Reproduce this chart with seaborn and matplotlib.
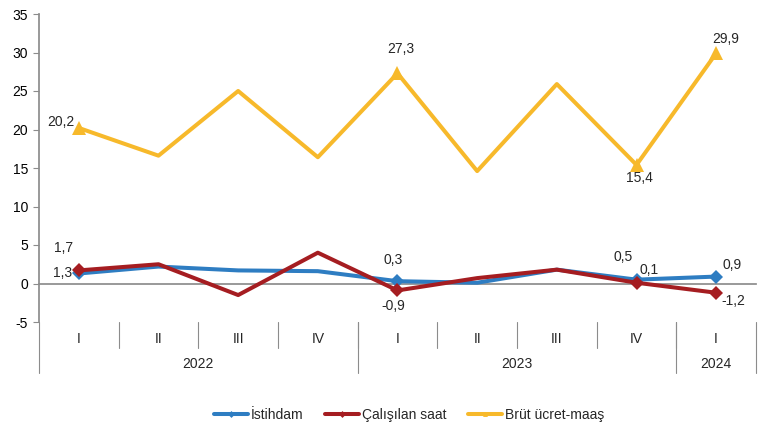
import numpy as np
import pandas as pd
import matplotlib
matplotlib.use("Agg")
import matplotlib.pyplot as plt
import seaborn as sns
from matplotlib.lines import Line2D

quarters = ["I", "II", "III", "IV", "I", "II", "III", "IV", "I"]
years = ["2022", "2023", "2024"]
year_spans = [(0, 3), (4, 7), (8, 8)]
istihdam = [1.3, 2.2, 1.7, 1.6, 0.3, 0.1, 1.8, 0.5, 0.9]
calisilan = [1.7, 2.5, -1.5, 4.0, -0.9, 0.7, 1.8, 0.1, -1.2]
brut = [20.2, 16.6, 25.0, 16.4, 27.3, 14.6, 25.9, 15.4, 29.9]
series_names = ["İstihdam", "Çalışılan saat", "Brüt ücret-maaş"]
labelled = [0, 4, 7, 8]

colors = {"İstihdam": "#2E7DC2", "Çalışılan saat": "#A51D21", "Brüt ücret-maaş": "#F7B92B"}
markers = {"İstihdam": "D", "Çalışılan saat": "D", "Brüt ücret-maaş": "^"}
msize = {"İstihdam": 7.5, "Çalışılan saat": 7.5, "Brüt ücret-maaş": 10}

pos = np.arange(len(quarters))
df = pd.DataFrame({
    "pos": np.tile(pos, 3),
    "value": istihdam + calisilan + brut,
    "series": np.repeat(series_names, len(quarters)),
})

sns.set_theme(style="white")
plt.rcParams["font.family"] = ["Liberation Sans", "DejaVu Sans"]

FS = 10

fig = plt.figure(figsize=(7.82, 4.30), dpi=100)
ax = fig.add_axes([39 / 782, 1 - 322 / 430, (756 - 39) / 782, (322 - 14) / 430])

for name in ["Brüt ücret-maaş", "İstihdam", "Çalışılan saat"]:
    sub = df[df["series"] == name]
    sns.lineplot(data=sub, x="pos", y="value", ax=ax, color=colors[name],
                 linewidth=2.9, marker=markers[name], markersize=msize[name],
                 markeredgewidth=0, markevery=labelled, legend=False, zorder=3)

ax.set_xlim(-0.5, 8.5)
ax.set_ylim(-5, 35)
ax.set_yticks(np.arange(-5, 36, 5))
ax.set_yticklabels([str(v) for v in range(-5, 36, 5)])
ax.set_xlabel("")
ax.set_ylabel("")

gray = "#8C8C8C"
for s in ["top", "right"]:
    ax.spines[s].set_visible(False)
ax.spines["left"].set_color(gray)
ax.spines["bottom"].set_color(gray)
ax.spines["bottom"].set_position(("data", 0))
ax.set_xticks(np.arange(0.5, 9, 1))
ax.set_xticklabels([])
ax.tick_params(axis="x", direction="out", length=4, color=gray, width=0.8)
ax.tick_params(axis="y", direction="out", length=4, color=gray, width=0.8,
               labelsize=FS, pad=4, labelcolor="#000000", left=True)

# category axis below
trans = ax.get_xaxis_transform()
h = 308.0
cat_y = -(339 - 322) / h
cat_bot = -(348 - 322) / h
year_y = -(364 - 322) / h
year_bot = -(373 - 322) / h
for i, q in enumerate(quarters):
    ax.text(i, cat_y, q, transform=trans, ha="center", va="center", fontsize=FS)
for b in np.arange(0.5, 8.0, 1):
    ax.plot([b, b], [0, cat_bot], transform=trans, color=gray, lw=0.8, clip_on=False)
for b in [-0.5, 3.5, 7.5, 8.5]:
    ax.plot([b, b], [0, year_bot], transform=trans, color=gray, lw=0.8, clip_on=False)
for yr, (a, b) in zip(years, year_spans):
    ax.text((a + b) / 2, year_y, yr, transform=trans, ha="center", va="center", fontsize=FS)

# data labels
def lab(x, y, dx, dy):
    ax.annotate(f"{y:.1f}".replace(".", ","), (x, y), xytext=(dx, dy),
                textcoords="offset pixels", ha="center", va="center", fontsize=FS)

lab(0, brut[0], -18, 6)
lab(4, brut[4], 3, 24)
lab(7, brut[7], 3, -13)
lab(8, brut[8], 10, 14)
lab(0, calisilan[0], -15, 22)
lab(0, istihdam[0], -16, 0)
lab(4, istihdam[4], -4, 21)
lab(4, calisilan[4], -4, -16)
lab(7, istihdam[7], -13, 23)
lab(7, calisilan[7], 13, 13)
lab(8, istihdam[8], 16, 12)
lab(8, calisilan[8], 17, -8)

handles = [Line2D([0], [0], color=colors[n], lw=2.9, marker=markers[n], markersize=3.5,
                  markeredgewidth=0) for n in series_names]
fig.legend(handles, series_names, loc="center", bbox_to_anchor=(409 / 782, 1 - 415 / 430),
           ncol=3, frameon=False, fontsize=FS, handlelength=2.5, handletextpad=0.2,
           columnspacing=1.5, numpoints=1)

fig.savefig("out.png", dpi=100)
